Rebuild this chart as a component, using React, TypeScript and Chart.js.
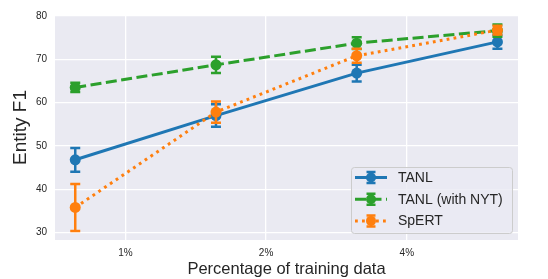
import { useEffect, useRef } from "react";
import { Chart, registerables } from "chart.js";

Chart.register(...registerables);

// ---- data ----
const percentages = [0.78125, 1.5625, 3.125, 6.25];
const seriesLabels = ["TANL", "TANL (with NYT)", "SpERT"];
const tanlValues = [46.8, 57.0, 66.8, 74.0];
const tanlErrors = [2.75, 2.6, 1.95, 1.6];
const nytValues = [63.5, 68.7, 73.7, 76.6];
const nytErrors = [1.05, 1.85, 1.35, 1.4];
const spertValues = [35.8, 57.8, 70.8, 76.7];
const spertErrors = [5.4, 2.45, 1.6, 1.0];
const xTickValues = [1, 2, 4];
const xTickLabels = ["1%", "2%", "4%"];
const yTickValues = [30, 40, 50, 60, 70, 80];

const FONT = "'Liberation Sans', Arial, sans-serif";
const TEXT = "#262626";
const BLUE = "#1f77b4";
const GREEN = "#2ca02c";
const ORANGE = "#ff7f0e";

const backgroundPlugin = {
  id: "axesBackground",
  beforeDraw(chart: any) {
    const { ctx, chartArea } = chart;
    ctx.save();
    ctx.fillStyle = "#EAEAF2";
    ctx.fillRect(chartArea.left, chartArea.top, chartArea.right - chartArea.left, chartArea.bottom - chartArea.top);
    ctx.restore();
  },
};

function drawErrorBar(ctx: any, x: number, yTop: number, yBot: number, half: number) {
  ctx.beginPath();
  ctx.moveTo(x, yTop);
  ctx.lineTo(x, yBot);
  ctx.moveTo(x - half, yTop);
  ctx.lineTo(x + half, yTop);
  ctx.moveTo(x - half, yBot);
  ctx.lineTo(x + half, yBot);
  ctx.stroke();
}

const errorBarPlugin = {
  id: "errorBars",
  beforeDatasetDraw(chart: any, args: any) {
    const ds = chart.data.datasets[args.index];
    const errs: number[] = ds.errors;
    if (!errs) return;
    const ctx = chart.ctx;
    const yScale = chart.scales.y;
    ctx.save();
    ctx.strokeStyle = ds.borderColor;
    ctx.lineWidth = 2.5;
    ctx.setLineDash([]);
    ctx.lineCap = "butt";
    args.meta.data.forEach((pt: any, i: number) => {
      const v = ds.data[i].y;
      const yTop = yScale.getPixelForValue(v + errs[i]);
      const yBot = yScale.getPixelForValue(v - errs[i]);
      drawErrorBar(ctx, pt.x, yTop, yBot, 5);
    });
    ctx.restore();
  },
};

const legendPlugin = {
  id: "customLegend",
  afterDraw(chart: any) {
    const { ctx, chartArea } = chart;
    const w = 161;
    const h = 66;
    const x0 = chartArea.right - 6 - w;
    const y0 = chartArea.bottom - 7 - h;
    ctx.save();
    ctx.beginPath();
    ctx.roundRect(x0 + 0.5, y0 + 0.5, w, h, 3);
    ctx.fillStyle = "rgba(234,234,242,0.8)";
    ctx.fill();
    ctx.strokeStyle = "#cccccc";
    ctx.lineWidth = 1;
    ctx.stroke();
    const datasets = chart.data.datasets;
    datasets.forEach((ds: any, i: number) => {
      const cy = y0 + 10.5 + i * 21.7;
      const lx1 = x0 + 4;
      const lx2 = x0 + 36;
      const cx = (lx1 + lx2) / 2;
      ctx.strokeStyle = ds.borderColor;
      ctx.lineWidth = ds.borderWidth;
      ctx.setLineDash(ds.borderDash || []);
      ctx.beginPath();
      ctx.moveTo(lx1, cy);
      ctx.lineTo(lx2, cy);
      ctx.stroke();
      ctx.setLineDash([]);
      ctx.lineWidth = 2.5;
      drawErrorBar(ctx, cx, cy - 5.5, cy + 5.5, 4.5);
      ctx.beginPath();
      ctx.arc(cx, cy, 5, 0, Math.PI * 2);
      ctx.fillStyle = ds.borderColor;
      ctx.fill();
      ctx.fillStyle = TEXT;
      ctx.font = `14px ${FONT}`;
      ctx.textBaseline = "middle";
      ctx.textAlign = "left";
      ctx.fillText(ds.label, x0 + 47, cy + 0.5);
    });
    ctx.restore();
  },
};

function makeDataset(label: string, values: number[], errors: number[], color: string, dash: number[], order: number) {
  return {
    label,
    data: percentages.map((p, i) => ({ x: Math.log2(p), y: values[i] })),
    errors,
    borderColor: color,
    backgroundColor: color,
    pointBackgroundColor: color,
    pointBorderWidth: 0,
    pointRadius: 5.5,
    borderWidth: 3,
    borderDash: dash,
    borderCapStyle: "butt",
    showLine: true,
    fill: false,
    tension: 0,
    order,
  };
}

export default function App() {
  const canvasRef = useRef<HTMLCanvasElement | null>(null);

  useEffect(() => {
    if (!canvasRef.current) return;
    Chart.defaults.font.family = FONT;
    Chart.defaults.color = TEXT;
    const chart = new Chart(canvasRef.current, {
      type: "scatter",
      data: {
        datasets: [
          makeDataset(seriesLabels[0], tanlValues, tanlErrors, BLUE, [], 3),
          makeDataset(seriesLabels[1], nytValues, nytErrors, GREEN, [11, 4.5], 2),
          makeDataset(seriesLabels[2], spertValues, spertErrors, ORANGE, [2.8, 4.2], 1),
        ] as any,
      },
      options: {
        animation: false,
        responsive: true,
        maintainAspectRatio: false,
        devicePixelRatio: 1,
        layout: { padding: { top: 15, right: 30, left: 0, bottom: 0 } },
        plugins: {
          legend: { display: false },
          tooltip: { enabled: false },
        },
        scales: {
          x: {
            type: "linear",
            min: -0.5,
            max: 2.79,
            border: { display: false },
            grid: { color: "#ffffff", lineWidth: 1.3, drawTicks: false },
            afterBuildTicks: (scale: any) => {
              scale.ticks = xTickValues.map((v) => ({ value: Math.log2(v) }));
            },
            afterFit: (scale: any) => {
              scale.height = 39;
            },
            ticks: {
              padding: 7,
              color: TEXT,
              font: { size: 10, family: FONT },
              callback: (_v: any, index: number) => xTickLabels[index],
            },
            title: {
              display: true,
              text: "Percentage of training data",
              color: TEXT,
              font: { size: 16.5, family: FONT },
              padding: { top: 0, bottom: 0 },
            },
          },
          y: {
            type: "linear",
            min: 28.3,
            max: 80.2,
            border: { display: false },
            grid: { color: "#ffffff", lineWidth: 1.3, drawTicks: false },
            afterBuildTicks: (scale: any) => {
              scale.ticks = yTickValues.map((v) => ({ value: v }));
            },
            afterFit: (scale: any) => {
              scale.width = 55;
            },
            ticks: {
              padding: 8,
              color: TEXT,
              font: { size: 10, family: FONT },
              callback: (v: any) => String(v),
            },
            title: {
              display: true,
              text: "Entity F1",
              color: TEXT,
              font: { size: 19, family: FONT },
              padding: { top: 9, bottom: 0 },
            },
          },
        },
      },
      plugins: [backgroundPlugin, errorBarPlugin, legendPlugin],
    });
    return () => chart.destroy();
  }, []);

  return (
    <div style={{ position: "absolute", left: 0, top: 0, width: 548, height: 279, background: "#ffffff" }}>
      <canvas ref={canvasRef} />
    </div>
  );
}
